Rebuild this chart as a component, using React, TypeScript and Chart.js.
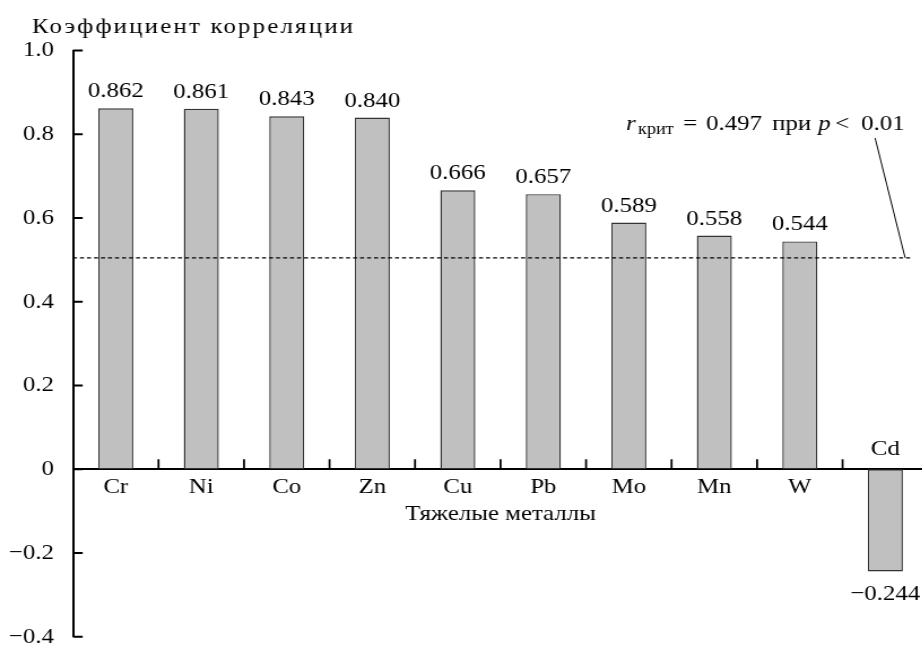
import React, { useEffect, useRef } from 'react';
import { Chart, registerables } from 'chart.js';

Chart.register(...registerables);

// ---- data ----
const categories = ['Cr', 'Ni', 'Co', 'Zn', 'Cu', 'Pb', 'Mo', 'Mn', 'W', 'Cd'];
const correlations = [0.862, 0.861, 0.843, 0.84, 0.666, 0.657, 0.589, 0.558, 0.544, -0.244];
const yTickValues = [-0.4, -0.2, 0, 0.2, 0.4, 0.6, 0.8, 1.0];
const yAxisTitle = 'Коэффициент корреляции';
const xAxisTitle = 'Тяжелые металлы';
const criticalR = 0.497;
const criticalLineLevel = 0.505;
const pThreshold = 0.01;

// ---- style / layout ----
const S = 1.13; // horizontal stretch of the reference
const FONT = "'Liberation Serif', 'Times New Roman', serif";
const SIZE = 22;
const CW = 830;
const CH = 698;
const AREA_TOP = 50.5;
const AREA_BOTTOM = 636.8;

const minus = (s: string) => s.replace('-', '\u2212');
const fmtTick = (v: number) => {
  const r = Math.round(v * 10) / 10;
  return r === 0 ? '0' : minus(r.toFixed(1));
};

const overlay = {
  id: 'overlay',
  afterDatasetsDraw(chart: any) {
    const { ctx, chartArea, scales } = chart;
    const x = scales.x;
    const y = scales.y;
    const meta = chart.getDatasetMeta(0);
    const zeroY = y.getPixelForValue(0);
    ctx.save();
    ctx.strokeStyle = '#000';
    ctx.fillStyle = '#000';

    // y tick marks (inward)
    ctx.lineWidth = 2;
    ctx.beginPath();
    yTickValues.forEach((v) => {
      const py = y.getPixelForValue(v);
      ctx.moveTo(chartArea.left, py);
      ctx.lineTo(chartArea.left + 9.7 / S, py);
    });
    ctx.stroke();

    // x tick marks at category boundaries (upward)
    ctx.lineWidth = 2 / S;
    ctx.beginPath();
    for (let i = 1; i < categories.length; i++) {
      const px = x.getPixelForValue(i - 0.5);
      ctx.moveTo(px, zeroY);
      ctx.lineTo(px, zeroY - 10);
    }
    ctx.stroke();

    // critical dashed line
    const cy = y.getPixelForValue(criticalLineLevel);
    ctx.save();
    ctx.lineWidth = 1.2;
    ctx.setLineDash([4 / S, 3 / S]);
    ctx.beginPath();
    ctx.moveTo(chartArea.left, cy);
    ctx.lineTo(913 / S, cy);
    ctx.stroke();
    ctx.restore();

    // leader line
    ctx.lineWidth = 1;
    ctx.beginPath();
    ctx.moveTo(875 / S, 138);
    ctx.lineTo(905 / S, cy);
    ctx.stroke();

    // value labels
    ctx.font = `${SIZE}px ${FONT}`;
    ctx.textAlign = 'center';
    ctx.textBaseline = 'alphabetic';
    meta.data.forEach((bar: any, i: number) => {
      const v = correlations[i];
      const txt = minus(v.toFixed(3));
      if (v >= 0) {
        ctx.fillText(txt, bar.x, bar.y - 11);
      } else {
        ctx.fillText(txt, bar.x, bar.y + 29);
        ctx.fillText(categories[i], bar.x, zeroY - 14);
      }
    });

    // y-axis title (top-left), spaced to the reference width
    ctx.textAlign = 'left';
    ctx.font = `${SIZE}px ${FONT}`;
    const w0 = ctx.measureText(yAxisTitle).width;
    const target = (353 - 32) / S;
    const ls = (target - w0) / (yAxisTitle.length - 1);
    (ctx as any).letterSpacing = `${ls}px`;
    ctx.fillText(yAxisTitle, 32 / S, 33);
    (ctx as any).letterSpacing = '0px';

    // annotation
    const ay = 130;
    const piece = (t: string, at: number, font: string, dy = 0) => {
      ctx.font = font;
      ctx.fillText(t, at / S, ay + dy);
    };
    piece('r', 626, `italic ${SIZE}px ${FONT}`);
    piece('крит', 638, `16px ${FONT}`, 4);
    piece('=', 683, `${SIZE}px ${FONT}`);
    piece(criticalR.toFixed(3), 706, `${SIZE}px ${FONT}`);
    piece('при', 772, `${SIZE}px ${FONT}`);
    piece('p', 818, `italic ${SIZE}px ${FONT}`);
    piece('<', 835, `${SIZE}px ${FONT}`);
    piece(pThreshold.toFixed(2), 861, `${SIZE}px ${FONT}`);

    ctx.restore();
  },
};

export default function App() {
  const ref = useRef<HTMLCanvasElement>(null);
  useEffect(() => {
    if (!ref.current) return;
    const chart = new Chart(ref.current, {
      type: 'bar',
      data: {
        labels: categories,
        datasets: [
          {
            data: correlations,
            backgroundColor: '#c0c0c0',
            borderColor: '#333333',
            borderWidth: 1.4,
            borderSkipped: false,
            barPercentage: 0.41,
            categoryPercentage: 1,
          },
        ],
      },
      options: {
        responsive: false,
        devicePixelRatio: 1,
        animation: false,
        events: [],
        layout: {
          padding: { left: 0, right: CW - 928 / S, top: AREA_TOP, bottom: CH - AREA_BOTTOM },
        },
        plugins: {
          legend: { display: false },
          tooltip: { enabled: false },
          title: { display: false },
        },
        scales: {
          x: {
            type: 'category',
            position: { y: 0 } as any,
            offset: true,
            z: 1,
            grid: { display: false },
            border: { display: true, color: '#000', width: 2 },
            ticks: {
              color: '#000',
              font: { family: FONT, size: SIZE },
              padding: -3,
              autoSkip: false,
              maxRotation: 0,
              callback: (_v: any, i: number) => (correlations[i] < 0 ? '' : categories[i]),
            },
            title: {
              display: true,
              text: xAxisTitle,
              color: '#000',
              font: { family: FONT, size: SIZE },
              padding: { top: 0, bottom: 0 },
            },
            afterFit: (s: any) => {
              s.height = 58.2;
              s.paddingLeft = 0;
              s.paddingRight = 0;
            },
          },
          y: {
            min: -0.4,
            max: 1.0,
            grid: { display: false },
            border: { display: true, color: '#000', width: 2 },
            afterBuildTicks: (s: any) => {
              s.ticks = yTickValues.map((v) => ({ value: v }));
            },
            ticks: {
              color: '#000',
              font: { family: FONT, size: SIZE },
              padding: 10 / S,
              callback: (v: any) => fmtTick(Number(v)),
            },
            afterFit: (s: any) => {
              s.width = 73 / S;
              s.paddingTop = 0;
              s.paddingBottom = 0;
            },
          },
        },
      } as any,
      plugins: [overlay],
    });
    return () => chart.destroy();
  }, []);

  return (
    <div
      style={{
        position: 'absolute',
        left: 0,
        top: 0,
        width: 922,
        height: 645,
        overflow: 'hidden',
        background: '#fff',
      }}
    >
      <canvas
        ref={ref}
        width={CW}
        height={CH}
        style={{ width: `${CW * S}px`, height: `${CH}px`, display: 'block' }}
      />
    </div>
  );
}
